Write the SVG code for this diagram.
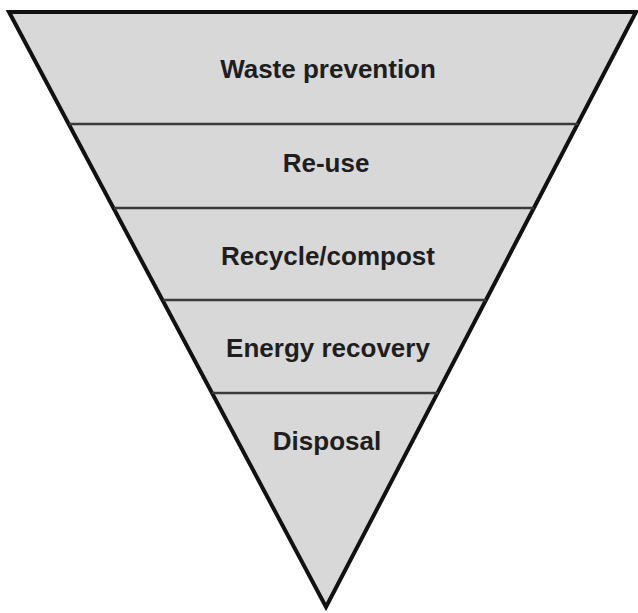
<svg xmlns="http://www.w3.org/2000/svg" width="638" height="613" viewBox="0 0 638 613">
<style>
.lbl{font-family:"Liberation Sans",Arial,sans-serif;font-weight:bold;font-size:26px;fill:#1e1e1e;text-anchor:middle}
.div{stroke:#3a3a3a;stroke-width:2.5;fill:none}
</style>
<rect width="638" height="613" fill="#ffffff"/>
<g id="pyramid">
<polygon points="9,12 636,12 326,607" fill="#d8d8d8" stroke="#111" stroke-width="4" stroke-linejoin="miter"/>
</g>
<g id="dividers">
<line class="div" x1="69" y1="124" x2="578" y2="124"/>
<line class="div" x1="114" y1="208" x2="534" y2="208"/>
<line class="div" x1="163" y1="300" x2="486" y2="300"/>
<line class="div" x1="212" y1="393" x2="438" y2="393"/>
</g>
<g id="n1"><text class="lbl" x="328" y="78">Waste prevention</text></g>
<g id="n2"><text class="lbl" x="326" y="172">Re-use</text></g>
<g id="n3"><text class="lbl" x="328" y="265">Recycle/compost</text></g>
<g id="n4"><text class="lbl" x="328" y="357">Energy recovery</text></g>
<g id="n5"><text class="lbl" x="327" y="450">Disposal</text></g>
</svg>
